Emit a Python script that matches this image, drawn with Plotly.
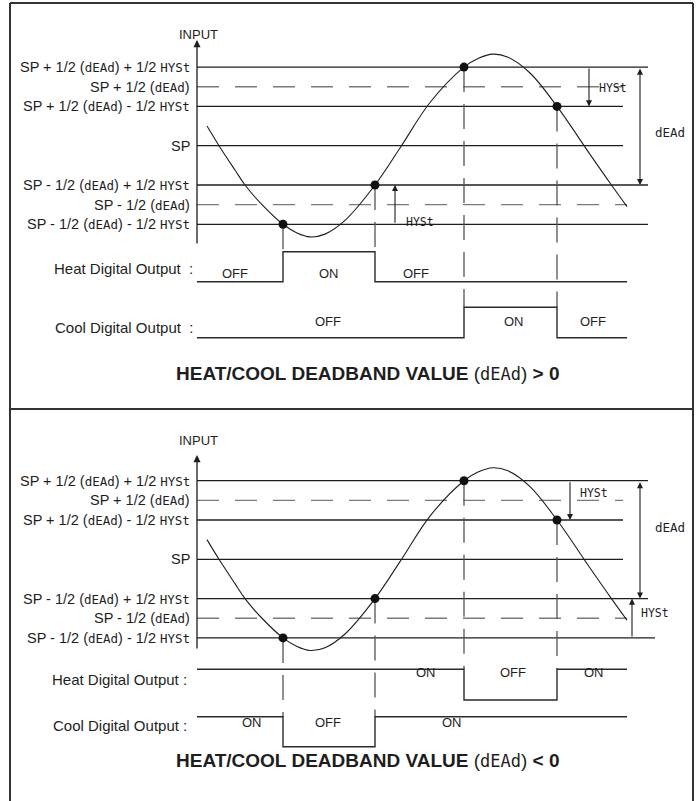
import plotly.graph_objects as go

W, H = 696, 801
K = 39.3  # pixels per HYSt unit on the input axis

# ---------------- data ----------------
# Threshold levels relative to SP, in HYSt units (HYSt = 1, dEAd = 3)
LEVEL_VALUES = [2.0, 1.5, 1.0, 0.0, -1.0, -1.5, -2.0]
LEVEL_DASHED = [False, True, False, False, False, True, False]
LEVEL_LABELS = [
    "SP + 1/2 (dEAd) + 1/2 HYSt",
    "SP + 1/2 (dEAd)",
    "SP + 1/2 (dEAd) - 1/2 HYSt",
    "SP",
    "SP - 1/2 (dEAd) + 1/2 HYSt",
    "SP - 1/2 (dEAd)",
    "SP - 1/2 (dEAd) - 1/2 HYSt",
]

# Process input over time
CURVE_T = [207, 219, 235, 245, 262, 283, 297, 310, 325, 345, 375, 400, 430,
           464, 478, 493, 508, 530, 557, 590, 610, 627]
CURVE_V = [0.50, 0.00, -0.62, -1.00, -1.50, -2.00, -2.22, -2.32, -2.25, -1.90,
           -1.00, -0.06, 1.10, 2.00, 2.22, 2.33, 2.25, 1.85, 1.00, -0.22, -0.95, -1.55]

# Switching instants (curve crossing the thresholds)
SWITCH_T = [283, 375, 464, 557]
SWITCH_V = [-2.0, -1.0, 2.0, 1.0]

T_START, T_END = 197, 627

# Digital outputs, deadband > 0
HEAT_POS_T = [T_START, 283, 375, T_END]
HEAT_POS_S = [0, 1, 0, 0]
COOL_POS_T = [T_START, 464, 557, T_END]
COOL_POS_S = [0, 1, 0, 0]
# Digital outputs, deadband < 0
HEAT_NEG_T = [T_START, 464, 557, T_END]
HEAT_NEG_S = [1, 0, 1, 1]
COOL_NEG_T = [T_START, 283, 375, T_END]
COOL_NEG_S = [1, 0, 1, 1]

STATE_TEXT = {0: "OFF", 1: "ON"}

# ---------------- layout of the two panels ----------------
PANELS = [
    dict(top=3, bottom=409, sp=145.7, input_px=25, axis_tail=245, axis_tip=40,
         heat=(251.7, 281.7), cool=(307.3, 337.7),
         heat_label_px=269, cool_label_px=327, label_right=195,
         heat_text_px=264, cool_text_px=321,
         heat_text_x=[235, 329, 416], cool_text_x=[328, 514, 593],
         heat_text_state=[0, 1, 0], cool_text_state=[0, 1, 0],
         heat_t=HEAT_POS_T, heat_s=HEAT_POS_S, cool_t=COOL_POS_T, cool_s=COOL_POS_S,
         conn_row=["heat", "heat", "cool", "cool"],
         line_end=[648, 623, 623, 623, 648, 627, 648],
         hyst_up_x=589, hyst_up_label=(597, 79.3),
         dead_x=640, dead_label=(653, 122.7),
         hyst_lo_x=395, hyst_lo_label=(404, 212.7),
         sep="\u00a0\u00a0:", title_px=373, sign="&gt;"),
    dict(top=409, bottom=801, sp=559.3, input_px=440, axis_tail=650, axis_tip=455,
         heat=(669.3, 700.0), cool=(716.7, 746.7),
         heat_label_px=690, cool_label_px=736, label_right=189,
         heat_text_px=681.7, cool_text_px=731.7,
         heat_text_x=[426, 513, 594], cool_text_x=[252, 328, 452],
         heat_text_state=[1, 0, 1], cool_text_state=[1, 0, 1],
         heat_t=HEAT_NEG_T, heat_s=HEAT_NEG_S, cool_t=COOL_NEG_T, cool_s=COOL_NEG_S,
         conn_row=["cool", "cool", "heat", "heat"],
         line_end=[648, 623, 623, 623, 648, 627, 655],
         hyst_up_x=570, hyst_up_label=(578, 493.3),
         dead_x=640, dead_label=(653, 536.7),
         hyst_lo_x=632, hyst_lo_label=(639, 621.7),
         sep="\u00a0:", title_px=773.3, sign="&lt;"),
]

FONT = "Liberation Sans, Arial, Helvetica, sans-serif"
SEG_FONT = "DejaVu Sans Mono"
INK = "#1e1e1e"
DASH_GREY = "#7a7a7a"


def seg(text, size):
    for tok in ("dEAd", "HYSt"):
        text = text.replace(
            tok, f"<span style=\"font-family:'{SEG_FONT}';font-size:{size}px\">{tok}</span>")
    return text


def py(px):
    return 1 - px / H


fig = go.Figure()
layout_axes = {}
annotations = []
shapes = []

for i, P in enumerate(PANELS):
    # axis ids: panel0 -> y, y2, y3 ; panel1 -> y4, y5, y6
    ids = [1 + 3 * i, 2 + 3 * i, 3 + 3 * i]
    yl, yh, yc = [("y" if n == 1 else f"y{n}") for n in ids]
    kl, kh, kc = [("yaxis" if n == 1 else f"yaxis{n}") for n in ids]

    def lvl(px, P=P):
        return (P["sp"] - px) / K

    # input-level axis covering the whole panel
    layout_axes[kl] = dict(domain=[py(P["bottom"]), py(P["top"])],
                           range=[lvl(P["bottom"]), lvl(P["top"])],
                           visible=False, anchor="x")
    # digital output rows: 0 = low, 1 = high
    for key, row in ((kh, P["heat"]), (kc, P["cool"])):
        hi, lo = row
        h = lo - hi
        layout_axes[key] = dict(domain=[py(lo + 0.5 * h), py(hi - 0.5 * h)],
                                range=[-0.5, 1.5], visible=False, anchor="x")

    # threshold lines
    for v, dashed, xe in zip(LEVEL_VALUES, LEVEL_DASHED, P["line_end"]):
        fig.add_trace(go.Scatter(
            x=[T_START, xe], y=[v, v], mode="lines", yaxis=yl,
            line=dict(color=DASH_GREY if dashed else INK, width=1.3,
                      dash="22px,16px" if dashed else "solid"),
            hoverinfo="skip", showlegend=False))

    # connectors from each crossing down to the output edge it triggers
    for t, v, row in zip(SWITCH_T, SWITCH_V, P["conn_row"]):
        end = lvl(P[row][0])
        fig.add_trace(go.Scatter(
            x=[t, t], y=[v, end], mode="lines", yaxis=yl,
            line=dict(color="#555555", width=1.3, dash="25px,12px"),
            hoverinfo="skip", showlegend=False))

    # input curve
    fig.add_trace(go.Scatter(
        x=CURVE_T, y=CURVE_V, mode="lines", yaxis=yl,
        line=dict(color=INK, width=1.1, shape="spline", smoothing=1.0),
        hoverinfo="skip", showlegend=False))
    # crossing points
    fig.add_trace(go.Scatter(
        x=SWITCH_T, y=SWITCH_V, mode="markers", yaxis=yl,
        marker=dict(color="#111111", size=9),
        hoverinfo="skip", showlegend=False))

    # digital outputs
    for ax_id, tt, ss in ((yh, P["heat_t"], P["heat_s"]), (yc, P["cool_t"], P["cool_s"])):
        fig.add_trace(go.Scatter(
            x=tt, y=ss, mode="lines", yaxis=ax_id,
            line=dict(color="#2a2a2a", width=1.4, shape="hv"),
            hoverinfo="skip", showlegend=False))

    # vertical input axis with arrow
    annotations.append(dict(x=T_START, y=lvl(P["axis_tip"]), ax=T_START, ay=lvl(P["axis_tail"]),
                            xref="x", yref=yl, axref="x", ayref=yl, text="",
                            showarrow=True, arrowhead=2, arrowsize=1.1, arrowwidth=1.3,
                            arrowcolor=INK))
    annotations.append(dict(x=T_START + 1, y=py(P["input_px"]), xref="x", yref="paper",
                            text="INPUT", showarrow=False,
                            font=dict(family=FONT, size=13, color=INK)))

    # threshold labels
    for v, lab in zip(LEVEL_VALUES, LEVEL_LABELS):
        annotations.append(dict(x=192, y=v, xref="x", yref=yl, xanchor="right",
                                text=seg(lab, 12.5), showarrow=False,
                                font=dict(family=FONT, size=14.5, color=INK)))

    # HYSt / dEAd dimension arrows
    annotations.append(dict(x=P["hyst_up_x"], y=1.0, ax=P["hyst_up_x"], ay=2.0,
                            xref="x", yref=yl, axref="x", ayref=yl, text="",
                            showarrow=True, arrowhead=2, arrowsize=1.1, arrowwidth=1.1,
                            arrowcolor=INK))
    annotations.append(dict(x=P["hyst_lo_x"], y=-1.0, ax=P["hyst_lo_x"], ay=-2.0,
                            xref="x", yref=yl, axref="x", ayref=yl, text="",
                            showarrow=True, arrowhead=2, arrowsize=1.1, arrowwidth=1.1,
                            arrowcolor=INK))
    annotations.append(dict(x=P["dead_x"], y=-1.0, ax=P["dead_x"], ay=2.0,
                            xref="x", yref=yl, axref="x", ayref=yl, text="",
                            showarrow=True, arrowhead=2, arrowsize=1.1, arrowwidth=1.1,
                            arrowside="end+start", arrowcolor=INK))
    for (lx, lpx), txt, sz in ((P["hyst_up_label"], "HYSt", 11.5),
                               (P["dead_label"], "dEAd", 12.5),
                               (P["hyst_lo_label"], "HYSt", 11.5)):
        annotations.append(dict(x=lx, y=py(lpx), xref="x", yref="paper", xanchor="left",
                                text=txt, showarrow=False,
                                font=dict(family=SEG_FONT, size=sz, color=INK)))

    # output row labels and states
    for name, lpx, tpx, xs, st in (("Heat", P["heat_label_px"], P["heat_text_px"],
                                    P["heat_text_x"], P["heat_text_state"]),
                                   ("Cool", P["cool_label_px"], P["cool_text_px"],
                                    P["cool_text_x"], P["cool_text_state"])):
        annotations.append(dict(x=P["label_right"], y=py(lpx), xref="x", yref="paper",
                                xanchor="right", text=f"{name} Digital Output{P['sep']}",
                                showarrow=False, font=dict(family=FONT, size=15, color=INK)))
        for x, s in zip(xs, st):
            annotations.append(dict(x=x, y=py(tpx), xref="x", yref="paper",
                                    text=STATE_TEXT[s], showarrow=False,
                                    font=dict(family=FONT, size=13, color=INK)))

    # panel title
    annotations.append(dict(
        x=368 / W, y=py(P["title_px"]), xref="paper", yref="paper",
        text=(f"<b>HEAT/COOL DEADBAND VALUE</b> (<span style=\"font-family:'{SEG_FONT}';"
              f"font-size:17px\">dEAd</span>) <b>{P['sign']} 0</b>"),
        showarrow=False, font=dict(family=FONT, size=19, color=INK)))

# frame
FRAME = dict(color="#333333", width=2)
shapes += [
    dict(type="line", xref="paper", yref="paper", x0=10 / W, x1=10 / W, y0=0, y1=py(3), line=FRAME),
    dict(type="line", xref="paper", yref="paper", x0=693 / W, x1=693 / W, y0=0, y1=py(3), line=FRAME),
    dict(type="line", xref="paper", yref="paper", x0=10 / W, x1=693 / W, y0=py(3), y1=py(3), line=FRAME),
    dict(type="line", xref="paper", yref="paper", x0=10 / W, x1=693 / W, y0=py(409), y1=py(409), line=FRAME),
]

fig.update_layout(
    width=W, height=H,
    margin=dict(l=0, r=0, t=0, b=0),
    paper_bgcolor="white", plot_bgcolor="rgba(0,0,0,0)",
    xaxis=dict(range=[0, W], domain=[0, 1], visible=False),
    annotations=annotations, shapes=shapes,
    showlegend=False,
    **layout_axes,
)

fig.write_html("out.html")
